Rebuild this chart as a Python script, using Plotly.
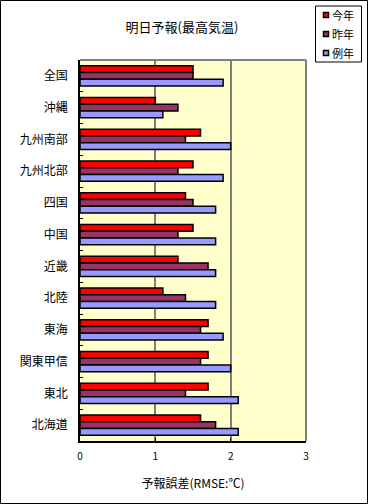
import plotly.graph_objects as go

categories = ["全国", "沖縄", "九州南部", "九州北部", "四国", "中国", "近畿", "北陸", "東海", "関東甲信", "東北", "北海道"]
this_year = [1.5, 1.0, 1.6, 1.5, 1.4, 1.5, 1.3, 1.1, 1.7, 1.7, 1.7, 1.6]
last_year = [1.5, 1.3, 1.4, 1.3, 1.5, 1.3, 1.7, 1.4, 1.6, 1.6, 1.4, 1.8]
normal_year = [1.9, 1.1, 2.0, 1.9, 1.8, 1.8, 1.8, 1.8, 1.9, 2.0, 2.1, 2.1]
series_names = ["今年", "昨年", "例年"]
colors = ["#FF0000", "#993366", "#9999FF"]
x_ticks = [0, 1, 2, 3]

FONT = "Noto Sans CJK JP"
fig = go.Figure()
for name, vals, c in zip(series_names, [this_year, last_year, normal_year], colors):
    fig.add_trace(go.Bar(
        y=categories, x=vals, name=name, orientation="h",
        marker=dict(color=c, line=dict(color="black", width=1.5)),
        showlegend=False,
    ))

L, R, T, B = 80, 62, 60, 63
W, H = 368, 504
pw, ph = W - L - R, H - T - B


def px(x):
    return (x - L) / pw


def py(y):
    return (H - B - y) / ph


fig.update_layout(
    width=W, height=H,
    margin=dict(l=L, r=R, t=T, b=B, autoexpand=False),
    paper_bgcolor="white", plot_bgcolor="#FFFFCC",
    barmode="group", bargap=0.36, bargroupgap=0,
    font=dict(family=FONT, color="black", size=12),
    title=dict(text="明日予報(最高気温)", font=dict(size=13, family=FONT),
               xref="paper", x=px(182), xanchor="center",
               yref="container", y=1 - 27 / H, yanchor="middle"),
    showlegend=False,
)
fig.update_xaxes(
    range=[0, 3], tickvals=x_ticks, ticktext=[str(v) for v in x_ticks],
    showgrid=True, gridcolor="#808080", gridwidth=2,
    showline=True, linecolor="black", linewidth=1.5,
    ticks="inside", ticklen=3, tickcolor="black",
    tickfont=dict(size=10), zeroline=False, ticklabelstandoff=5,
    title=dict(text="予報誤差(RMSE:℃)", font=dict(size=12), standoff=18),
)
fig.update_yaxes(
    autorange="reversed", type="category",
    showline=True, linecolor="black", linewidth=1.5,
    ticks="inside", ticklen=3, tickcolor="black", tickson="boundaries",
    ticklabelstandoff=8, tickfont=dict(size=12), showgrid=False,
)
# plot area top/right border (gray)
fig.add_shape(type="line", xref="paper", yref="paper", x0=0, x1=1, y0=1, y1=1,
              line=dict(color="#808080", width=2))
fig.add_shape(type="line", xref="paper", yref="paper", x0=1, x1=1, y0=0, y1=1,
              line=dict(color="#808080", width=2))
# outer border
fig.add_shape(type="rect", xref="paper", yref="paper",
              x0=px(0.5), x1=px(W - 0.5), y0=py(H - 0.5), y1=py(0.5),
              line=dict(color="black", width=1))
# custom legend
fig.add_shape(type="rect", xref="paper", yref="paper",
              x0=px(315.5), x1=px(361.5), y0=py(62), y1=py(6),
              line=dict(color="black", width=1), fillcolor="white")
for i, (name, c) in enumerate(zip(series_names, colors)):
    yc = 15 + i * 19
    fig.add_shape(type="rect", xref="paper", yref="paper",
                  x0=px(323.5), x1=px(328.5), y0=py(yc + 2.5), y1=py(yc - 2.5),
                  line=dict(color="black", width=1.5), fillcolor=c)
    fig.add_annotation(text=name, xref="paper", yref="paper",
                       x=px(330), y=py(yc), xanchor="left", yanchor="middle",
                       showarrow=False, font=dict(size=11, family=FONT))
fig.write_html("out.html")
